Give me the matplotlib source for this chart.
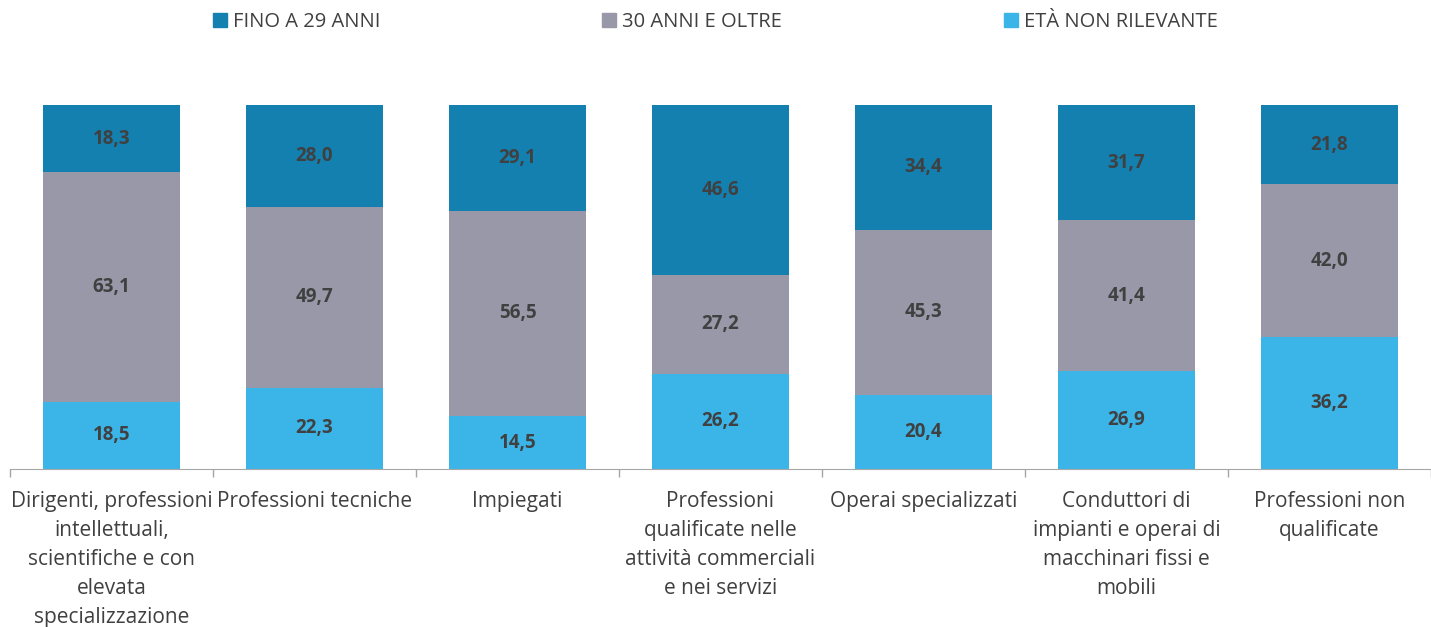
import numpy as np
import matplotlib.pyplot as plt
from matplotlib.patches import Patch

# -----------------------------
# Data
# -----------------------------
categories = [
    "Dirigenti, professioni\nintellettuali,\nscientifiche e con\nelevata\nspecializzazione",
    "Professioni tecniche",
    "Impiegati",
    "Professioni\nqualificate nelle\nattività commerciali\ne nei servizi",
    "Operai specializzati",
    "Conduttori di\nimpianti e operai di\nmacchinari fissi e\nmobili",
    "Professioni non\nqualificate",
]
non_rilevante = [18.5, 22.3, 14.5, 26.2, 20.4, 26.9, 36.2]
oltre_30 = [63.1, 49.7, 56.5, 27.2, 45.3, 41.4, 42.0]
fino_29 = [18.3, 28.0, 29.1, 46.6, 34.4, 31.7, 21.8]

series_names = ["FINO A 29 ANNI", "30 ANNI E OLTRE", "ETÀ NON RILEVANTE"]
c_dark = "#1380B0"
c_gray = "#9898A8"
c_light = "#3BB5E8"
txt = "#404040"

plt.rcParams['font.family'] = ['Open Sans', 'DejaVu Sans']

fig = plt.figure(figsize=(14.31, 6.27), dpi=100)
ax = fig.add_axes([10 / 1431, 1 - 469 / 627, 1421 / 1431, 364 / 627])

x = np.arange(len(categories))
w = 0.67
b1 = np.array(non_rilevante)
b2 = b1 + np.array(oltre_30)

ax.bar(x, non_rilevante, w, color=c_light)
ax.bar(x, oltre_30, w, bottom=b1, color=c_gray)
ax.bar(x, fino_29, w, bottom=b2, color=c_dark)

def fmt(v):
    return f"{v:.1f}".replace(".", ",")

for i in x:
    ax.text(i, non_rilevante[i] / 2, fmt(non_rilevante[i]), ha="center", va="center",
            fontsize=13.5, fontweight="bold", color=txt)
    ax.text(i, b1[i] + oltre_30[i] / 2, fmt(oltre_30[i]), ha="center", va="center",
            fontsize=13.5, fontweight="bold", color=txt)
    ax.text(i, b2[i] + fino_29[i] / 2, fmt(fino_29[i]), ha="center", va="center",
            fontsize=13.5, fontweight="bold", color=txt)

ax.set_xlim(-0.5, len(categories) - 0.5)
ax.set_ylim(0, 100)
ax.set_yticks([])
ax.set_xticks(x)
ax.set_xticklabels(categories, fontsize=15, color=txt, linespacing=1.5)
ax.tick_params(axis="x", which="major", length=0, pad=16)
ax.set_xticks(np.arange(-0.5, len(categories)), minor=True)
ax.tick_params(axis="x", which="minor", length=6, color="#A6A6A6", width=1)
for s in ["top", "right", "left"]:
    ax.spines[s].set_visible(False)
ax.spines["bottom"].set_color("#A6A6A6")

handles = [Patch(color=c_dark), Patch(color=c_gray), Patch(color=c_light)]
fig.legend(handles, series_names, loc="center", bbox_to_anchor=(0.5, 1 - 22 / 627),
           ncol=3, frameon=False, fontsize=14.5, labelcolor=txt, columnspacing=11,
           handlelength=0.7, handleheight=0.7, handletextpad=0.3)

plt.savefig("out.png", dpi=100)
